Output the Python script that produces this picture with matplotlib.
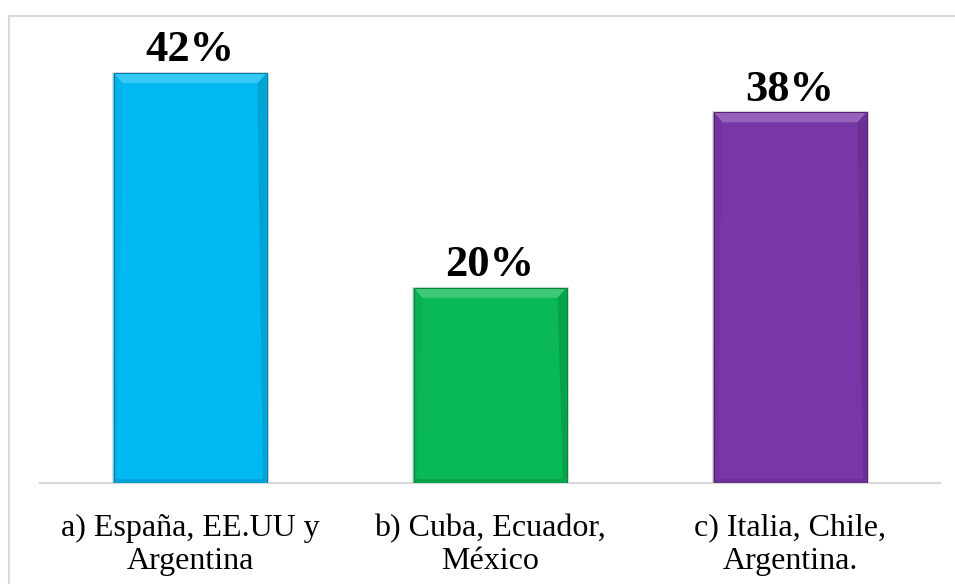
import matplotlib.pyplot as plt
from matplotlib.patches import Polygon, Rectangle
import matplotlib.colors as mcolors
import numpy as np

categories = ["a) España, EE.UU y\nArgentina", "b) Cuba, Ecuador,\nMéxico", "c) Italia, Chile,\nArgentina."]
values = [42, 20, 38]
colors = ["#00B9F1", "#08B955", "#7836A6"]

plt.rcParams["font.family"] = ["Liberation Serif", "DejaVu Serif"]

fig = plt.figure(figsize=(9.55, 5.84), dpi=100)
ax = fig.add_axes([40 / 955, 101 / 584, 900 / 955, 439 / 584])

x = np.arange(len(categories))
width = 0.51
bars = ax.bar(x, values, width, color=colors, zorder=2)

ax.set_xlim(-0.5, len(categories) - 0.5)
ax.set_ylim(0, 45)
ax.set_yticks([])
ax.set_xticks(x)
ax.set_xticklabels(categories, fontsize=23, linespacing=1.2)
ax.tick_params(axis="x", length=0, pad=22)
for side in ["top", "left", "right"]:
    ax.spines[side].set_visible(False)
ax.spines["bottom"].set_color("#D9D9D9")
ax.spines["bottom"].set_linewidth(1.6)
ax.spines["bottom"].set_zorder(1)


def shade(c, amount):
    rgb = np.array(mcolors.to_rgb(c))
    if amount > 0:
        return tuple(rgb + (1 - rgb) * amount)
    return tuple(rgb * (1 + amount))


# bevel size in pixels converted to data units
px_x = 1 / (ax.transData.transform((1, 0))[0] - ax.transData.transform((0, 0))[0])
px_y = 1 / (ax.transData.transform((0, 1))[1] - ax.transData.transform((0, 0))[1])
bx, by = 9 * px_x, 10 * px_y

for rect, c, v in zip(bars, colors, values):
    x0, x1 = rect.get_x(), rect.get_x() + rect.get_width()
    y0, y1 = 0, rect.get_height()
    # soft shadow behind the bar
    ax.add_patch(Rectangle((x0 - 2 * px_x, y0), x1 - x0 + 4 * px_x, y1 + 1 * px_y,
                           facecolor="#BFBFBF", alpha=0.5, edgecolor="none", zorder=1.5))
    top = Polygon([(x0, y1), (x1, y1), (x1 - bx, y1 - by), (x0 + bx, y1 - by)],
                  facecolor=shade(c, 0.22), edgecolor="none", zorder=3)
    left = Polygon([(x0, y0), (x0, y1), (x0 + bx, y1 - by), (x0 + bx * 0.4, y0 + by * 0.4)],
                   facecolor=shade(c, -0.04), edgecolor="none", zorder=3)
    right = Polygon([(x1, y0), (x1, y1), (x1 - bx, y1 - by), (x1 - bx * 0.4, y0 + by * 0.4)],
                    facecolor=shade(c, -0.12), edgecolor="none", zorder=3)
    bottom = Polygon([(x0, y0), (x1, y0), (x1 - bx * 0.4, y0 + by * 0.4), (x0 + bx * 0.4, y0 + by * 0.4)],
                     facecolor=shade(c, -0.12), edgecolor="none", zorder=3)
    for p in (top, left, right, bottom):
        ax.add_patch(p)
    ax.add_patch(Rectangle((x0, y0), x1 - x0, y1, facecolor="none",
                           edgecolor=shade(c, -0.3), linewidth=0.8, zorder=4))
    ax.annotate(f"{v}%", xy=((x0 + x1) / 2, y1),
                xytext=(0, 2), textcoords="offset points", ha="center", va="bottom",
                fontsize=32, fontweight="bold", zorder=5)

# chart area border
fig.add_artist(Rectangle((9 / 955, -0.1), 1.2, (584 - 16) / 584 + 0.1, transform=fig.transFigure,
                         facecolor="none", edgecolor="#D9D9D9", linewidth=1.5))

plt.savefig("out.png", dpi=100)
